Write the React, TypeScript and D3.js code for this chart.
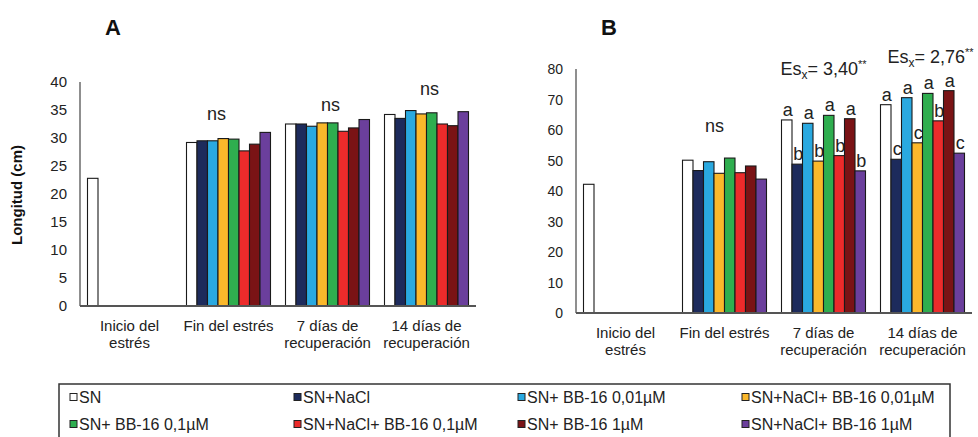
import React from 'react';
import * as d3 from 'd3';

const categories = [
  ['Inicio del', 'estrés'],
  ['Fin del estrés'],
  ['7 días de', 'recuperación'],
  ['14 días de', 'recuperación'],
];

const seriesNames = [
  'SN',
  'SN+NaCl',
  'SN+ BB-16 0,01µM',
  'SN+NaCl+ BB-16 0,01µM',
  'SN+ BB-16 0,1µM',
  'SN+NaCl+ BB-16 0,1µM',
  'SN+ BB-16 1µM',
  'SN+NaCl+ BB-16 1µM',
];

const seriesColors = ['#ffffff', '#1d2b5c', '#2aa9e0', '#fbb82b', '#2fae4f', '#ec2b2b', '#7a1315', '#6b3f9c'];

// panel A: longitud (cm), one array per series over the 4 categories
const valuesA: (number | null)[][] = [
  [22.8, 29.2, 32.5, 34.2],
  [null, 29.5, 32.5, 33.5],
  [null, 29.5, 32.1, 34.9],
  [null, 29.9, 32.7, 34.3],
  [null, 29.8, 32.7, 34.5],
  [null, 27.7, 31.2, 32.5],
  [null, 28.9, 31.8, 32.2],
  [null, 31.0, 33.3, 34.7],
];

// panel B
const valuesB: (number | null)[][] = [
  [42.2, 50.1, 63.3, 68.3],
  [null, 46.7, 48.8, 50.4],
  [null, 49.6, 62.2, 70.6],
  [null, 45.8, 49.8, 55.8],
  [null, 50.8, 64.8, 72.0],
  [null, 46.0, 51.6, 63.0],
  [null, 48.2, 63.7, 72.9],
  [null, 43.9, 46.6, 52.4],
];

const ticksA = [0, 5, 10, 15, 20, 25, 30, 35, 40];
const ticksB = [0, 10, 20, 30, 40, 50, 60, 70, 80];

// significance letters per category (panel B), one per series
const lettersB: (string[] | null)[] = [
  null,
  null,
  ['a', 'b', 'a', 'b', 'a', 'b', 'a', 'b'],
  ['a', 'c', 'a', 'c', 'a', 'b', 'a', 'c'],
];

// "ns" labels: [category index, value level]
const nsA: [number, number][] = [[1, 33.2], [2, 34.8], [3, 37.7]];
const nsB: [number, number][] = [[1, 59.3]];

// Es_x labels for panel B: [category index, value level, number]
const esB: [number, number, string][] = [[2, 78, '3,40'], [3, 82, '2,76']];

const FONT = "'Liberation Sans', Arial, Helvetica, sans-serif";

interface PanelProps {
  title: string;
  values: (number | null)[][];
  ticks: number[];
  yMax: number;
  left: number;
  right: number;
  top: number;
  bottom: number;
  tickSize: number;
  ns: [number, number][];
  nsDx: number;
  letters?: (string[] | null)[];
  es?: [number, number, string][];
}

const Panel: React.FC<PanelProps> = ({ title, values, ticks, yMax, left, right, top, bottom, tickSize, ns, nsDx, letters, es }) => {
  const x0 = d3.scaleBand<number>().domain(d3.range(categories.length)).range([left, right]);
  const bw = x0.bandwidth();
  const x1 = d3.scaleBand<number>().domain(d3.range(seriesNames.length)).range([7.5, bw - 7.5]);
  const y = d3.scaleLinear().domain([0, yMax]).range([bottom, top]);

  return (
    <g fontFamily={FONT}>
      <text x={left + 25} y={35} fontSize={22} fontWeight="bold" fill="#111">{title}</text>
      {ticks.map(t => (
        <text key={t} x={left - 13} y={y(t)} dy="0.36em" textAnchor="end" fontSize={tickSize} fill="#222">{t}</text>
      ))}
      <line x1={left} x2={left} y1={y(yMax)} y2={bottom} stroke="#6a6a6a" strokeWidth={1.5} />
      {values.map((vals, s) =>
        vals.map((v, c) =>
          v == null ? null : (
            <rect
              key={`${s}-${c}`}
              x={x0(c)! + x1(s)!}
              y={y(v)}
              width={x1.bandwidth()}
              height={bottom - y(v)}
              fill={seriesColors[s]}
              stroke="#1a1a1a"
              strokeWidth={1.1}
            />
          )
        )
      )}
      <line x1={left} x2={right} y1={bottom} y2={bottom} stroke="#555" strokeWidth={2} />
      {categories.map((lines, c) => (
        <text key={c} x={x0(c)! + bw / 2} y={bottom + 25} textAnchor="middle" fontSize={15} fill="#222">
          {lines.map((l, i) => (
            <tspan key={i} x={x0(c)! + bw / 2} dy={i === 0 ? 0 : 17}>{l}</tspan>
          ))}
        </text>
      ))}
      {ns.map(([c, lvl]) => (
        <text key={c} x={x0(c)! + bw / 2 + (c === 1 ? nsDx : 3)} y={y(lvl)} textAnchor="middle" fontSize={18} fill="#222">ns</text>
      ))}
      {letters &&
        letters.map((row, c) =>
          row
            ? row.map((l, s) => (
                <text key={`${c}-${s}`} x={x0(c)! + x1(s)! + x1.bandwidth() / 2 + 1} y={y(values[s][c]!) - 4} textAnchor="middle" fontSize={18} fill="#222">{l}</text>
              ))
            : null
        )}
      {es &&
        es.map(([c, lvl, num]) => (
          <text key={c} x={x0(c)! + bw / 2 + (c === 3 ? 8 : 0)} y={y(lvl)} textAnchor="middle" fontSize={18} fill="#222">
            Es<tspan fontSize={12} dy={4}>x</tspan>
            <tspan dy={-4}>= {num}</tspan>
            <tspan fontSize={11} dy={-7}>**</tspan>
          </text>
        ))}
    </g>
  );
};

const Legend: React.FC = () => {
  const cols = d3.scaleBand<number>().domain([0, 1, 2, 3]).range([70, 966]);
  const rows = d3.scaleBand<number>().domain([0, 1]).range([384, 438]);
  return (
    <g fontFamily={FONT}>
      <rect x={59} y={384} width={891} height={70} fill="#fff" stroke="#333" strokeWidth={1.5} />
      {seriesNames.map((name, i) => {
        const cx = cols(i % 4)!;
        const cy = rows(Math.floor(i / 4))! + rows.bandwidth() / 2;
        return (
          <g key={name}>
            <rect x={cx} y={cy - 4} width={7} height={7} fill={seriesColors[i]} stroke="#222" strokeWidth={1} />
            <text x={cx + 9} y={cy} dy="0.36em" fontSize={16} fill="#222">{name}</text>
          </g>
        );
      })}
    </g>
  );
};

export default function App() {
  return (
    <svg width={978} height={437} style={{ position: 'absolute', left: 0, top: 0, background: '#fff' }}>
      <text x={22} y={195} transform="rotate(-90,22,195)" textAnchor="middle" fontFamily={FONT} fontSize={15} fontWeight="bold" fill="#111">Longitud (cm)</text>
      <Panel title="A" values={valuesA} ticks={ticksA} yMax={40} left={80} right={476} top={82} bottom={306} tickSize={15} ns={nsA} nsDx={-12} />
      <Panel title="B" values={valuesB} ticks={ticksB} yMax={80} left={576} right={972} top={69} bottom={313} tickSize={14} ns={nsB} nsDx={-10} letters={lettersB} es={esB} />
      <Legend />
    </svg>
  );
}
